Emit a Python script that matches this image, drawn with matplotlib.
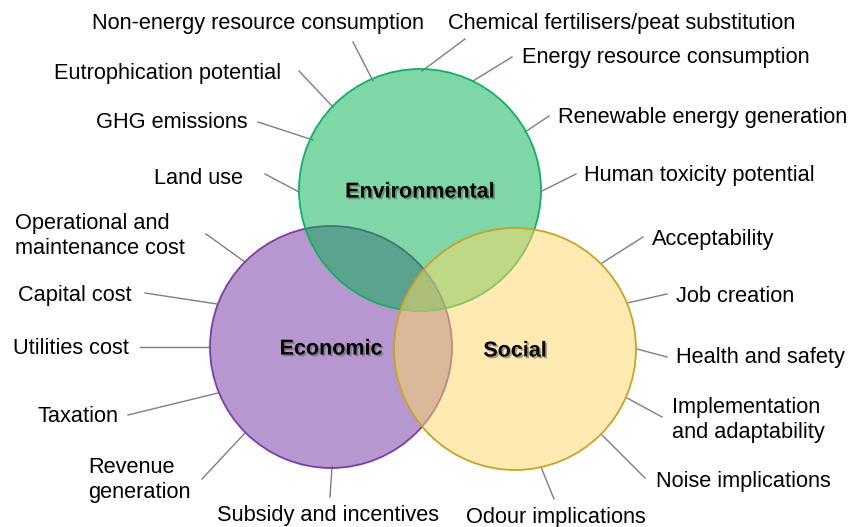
import matplotlib.pyplot as plt
import matplotlib.patheffects as pe
from matplotlib.colors import to_rgb
from matplotlib.patches import Circle

plt.rcParams['font.family'] = ['Liberation Sans', 'DejaVu Sans']

# the three pillars
categories = ['Environmental', 'Economic', 'Social']

# indicators for each pillar
env_labels = ['Non-energy resource consumption', 'Eutrophication potential', 'GHG emissions',
              'Land use', 'Chemical fertilisers/peat substitution', 'Energy resource consumption',
              'Renewable energy generation', 'Human toxicity potential']
soc_labels = ['Acceptability', 'Job creation', 'Health and safety',
              'Implementation\nand adaptability', 'Noise implications', 'Odour implications']
eco_labels = ['Operational and\nmaintenance cost', 'Capital cost', 'Utilities cost', 'Taxation',
              'Revenue\ngeneration', 'Subsidy and incentives']

# layout (pixel coords, y down)
circle_xy = {'Environmental': (420, 190), 'Economic': (331, 347), 'Social': (515, 349)}
radius = 121
fills = {'Environmental': ('#00B050', 0.5), 'Economic': ('#7030A0', 0.5), 'Social': ('#FFD966', 0.5)}
edges = {'Environmental': '#12B060', 'Economic': '#7A3DAA', 'Social': '#C9A227'}
zorders = {'Economic': 1, 'Environmental': 2, 'Social': 3}

# text left x, text centre y, leader line outer end, leader line circle end
env_pos = [(92, 24, (353, 42), (373, 81)),
           (54, 73, (299, 71), (333, 107)),
           (96, 122, (258, 122), (313, 140)),
           (154, 178, (265, 174), (299, 192)),
           (448, 23, (465, 39), (422, 71)),
           (522, 58, (512, 57), (473, 81)),
           (558, 117, (549, 116), (525, 132)),
           (584, 176, (576, 174), (542, 191))]
soc_pos = [(652, 239, (643, 237), (602, 263)),
           (676, 297, (667, 294), (627, 303)),
           (676, 358, (667, 357), (637, 349)),
           (672, 420, (662, 417), (627, 398)),
           (656, 481, (645, 478), (602, 435)),
           (466, 518, (554, 499), (541, 467))]
eco_pos = [(15, 236, (206, 234), (245, 262)),
           (18, 296, (145, 293), (217, 304)),
           (13, 349, (140, 347), (210, 347)),
           (38, 416, (128, 415), (218, 393)),
           (88, 480, (202, 479), (245, 433)),
           (217, 516, (330, 497), (332, 467))]

fig = plt.figure(figsize=(8.61, 5.27), dpi=100)
ax = fig.add_axes([0, 0, 1, 1])
ax.set_xlim(0, 861)
ax.set_ylim(527, 0)
ax.axis('off')

for cat in categories:
    col, a = fills[cat]
    ax.add_patch(Circle(circle_xy[cat], radius, facecolor=(*to_rgb(col), a), lw=0,
                        zorder=zorders[cat]))
    ax.add_patch(Circle(circle_xy[cat], radius, facecolor='none', edgecolor=edges[cat], lw=1.3,
                        zorder=zorders[cat] + 0.5))

shadow = [pe.withSimplePatchShadow(offset=(1.3, -1.3), shadow_rgbFace='0.35', alpha=0.55)]
for cat in categories:
    x, y = circle_xy[cat]
    ax.text(x, y + 2, cat, ha='center', va='center', fontsize=15.5, fontweight='bold',
            color='black', zorder=10, path_effects=shadow)

for labels, pos in [(env_labels, env_pos), (soc_labels, soc_pos), (eco_labels, eco_pos)]:
    for lab, (tx, ty, p_out, p_in) in zip(labels, pos):
        ax.plot([p_out[0], p_in[0]], [p_out[1], p_in[1]], color='#7F7F7F', lw=1, zorder=0)
        ax.text(tx, ty, lab, ha='left', va='center', fontsize=15.7, color='black',
                linespacing=1.25)

fig.savefig('out.png', dpi=100)
